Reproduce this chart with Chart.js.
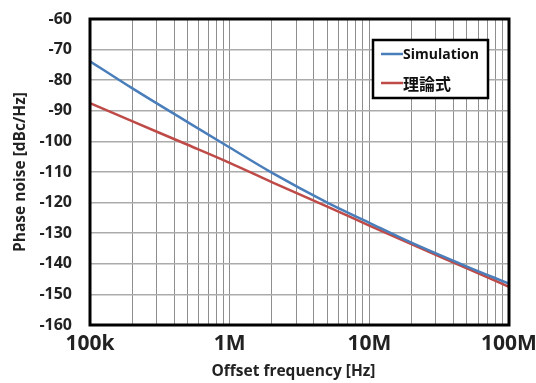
<!DOCTYPE html>
<html>
<head>
<meta charset="utf-8">
<script src="https://cdn.jsdelivr.net/npm/chart.js@4"></script>
<style>
  body { margin: 0; background: #fff; }
</style>
</head>
<body>
<canvas id="myChart" width="536" height="383"></canvas>
<script>
// values
var freqs = [1e5, 2e5, 5e5, 1e6, 2e6, 5e6, 1e7, 2e7, 5e7, 1e8]
var simValues = [-73.8, -82.6, -93.7, -102.0, -110.2, -120.0, -126.6, -133.1, -140.9, -146.5]
var theoryValues = [-87.5, -93.4, -101.1, -107.0, -113.3, -121.3, -127.5, -133.6, -141.5, -147.5]
var seriesNames = ['Simulation', '理論式']
var seriesColors = ['#4a7ebb', '#be4b48']
var xTickValues = [1e5, 1e6, 1e7, 1e8]
var xTickLabels = ['100k', '1M', '10M', '100M']
var yTicks = [-160, -150, -140, -130, -120, -110, -100, -90, -80, -70, -60]

var FONT = "'Open Sans', 'Liberation Sans', sans-serif"

// grid lines at 1..9 x each decade
var xGrid = []
for (var d = 0; d < xTickValues.length - 1; d++) {
  for (var m = 1; m < 10; m++) xGrid.push(xTickValues[d] * m)
}
xGrid.push(xTickValues[xTickValues.length - 1])

function toPoints(vals) {
  return freqs.map(function (f, i) { return { x: f, y: vals[i] } })
}

var framePlugin = {
  id: 'frame',
  afterDraw: function (chart) {
    var ctx = chart.ctx
    var a = chart.chartArea
    ctx.save()
    ctx.strokeStyle = '#000'
    ctx.lineWidth = 3
    ctx.strokeRect(a.left, a.top, a.right - a.left, a.bottom - a.top)

    // legend box
    var bx = 373, by = 40, bw = 115, bh = 58
    ctx.fillStyle = '#fff'
    ctx.fillRect(bx, by, bw, bh)
    ctx.lineWidth = 2.5
    ctx.strokeRect(bx, by, bw, bh)
    var rows = [54, 83]
    chart.data.datasets.forEach(function (ds, i) {
      ctx.strokeStyle = ds.borderColor
      ctx.lineWidth = 2.5
      ctx.beginPath()
      ctx.moveTo(381, rows[i])
      ctx.lineTo(403, rows[i])
      ctx.stroke()
      ctx.fillStyle = '#111'
      ctx.textBaseline = 'middle'
      ctx.textAlign = 'left'
      ctx.font = i == 0 ? 'bold 14px ' + FONT : "bold 16px 'Noto Sans CJK JP', sans-serif"
      ctx.fillText(ds.label, 403, rows[i] + 1)
    })
    ctx.restore()
  }
}

var ctx = document.getElementById('myChart').getContext('2d')
var chart = new Chart(ctx, {
  type: 'line',
  data: {
    datasets: [{
      label: seriesNames[0],
      data: toPoints(simValues),
      borderColor: seriesColors[0],
      backgroundColor: seriesColors[0],
      borderWidth: 2.5,
      pointRadius: 0,
      cubicInterpolationMode: 'monotone'
    }, {
      label: seriesNames[1],
      data: toPoints(theoryValues),
      borderColor: seriesColors[1],
      backgroundColor: seriesColors[1],
      borderWidth: 2.5,
      pointRadius: 0,
      cubicInterpolationMode: 'monotone'
    }]
  },
  options: {
    responsive: false,
    animation: false,
    devicePixelRatio: 1,
    layout: { padding: { top: 19, right: 27, left: 0, bottom: 0 } },
    plugins: { legend: { display: false }, tooltip: { enabled: false } },
    scales: {
      x: {
        type: 'logarithmic',
        min: 1e5,
        max: 1e8,
        afterBuildTicks: function (s) {
          s.ticks = xGrid.map(function (v) { return { value: v } })
        },
        afterFit: function (s) {
          s.height = 58
          s.paddingLeft = 0
          s.paddingRight = 0
        },
        grid: { color: '#8e8e8e', lineWidth: 1, drawTicks: false },
        border: { display: false },
        ticks: {
          autoSkip: false,
          maxRotation: 0,
          padding: 6,
          color: '#222',
          font: { family: FONT, size: 21, weight: 'bold' },
          callback: function (v) {
            var i = xTickValues.indexOf(v)
            return i >= 0 ? xTickLabels[i] : ''
          }
        },
        title: {
          display: true,
          text: 'Offset frequency [Hz]   ',
          color: '#222',
          font: { family: FONT, size: 15.5, weight: 'bold' },
          padding: { top: 0, bottom: 2 }
        }
      },
      y: {
        min: -160,
        max: -60,
        afterBuildTicks: function (s) {
          s.ticks = yTicks.map(function (v) { return { value: v } })
        },
        afterFit: function (s) {
          s.width = 90
          s.paddingTop = 0
          s.paddingBottom = 0
        },
        grid: { color: '#ababab', lineWidth: 1.5, drawTicks: false },
        border: { display: false },
        ticks: {
          padding: 18,
          color: '#222',
          font: { family: FONT, size: 16, weight: 'bold' }
        },
        title: {
          display: true,
          text: 'Phase noise [dBc/Hz]',
          color: '#222',
          font: { family: FONT, size: 15.5, weight: 'bold' },
          padding: { top: 11, bottom: 0 }
        }
      }
    }
  },
  plugins: [framePlugin]
})
</script>
</body>
</html>
